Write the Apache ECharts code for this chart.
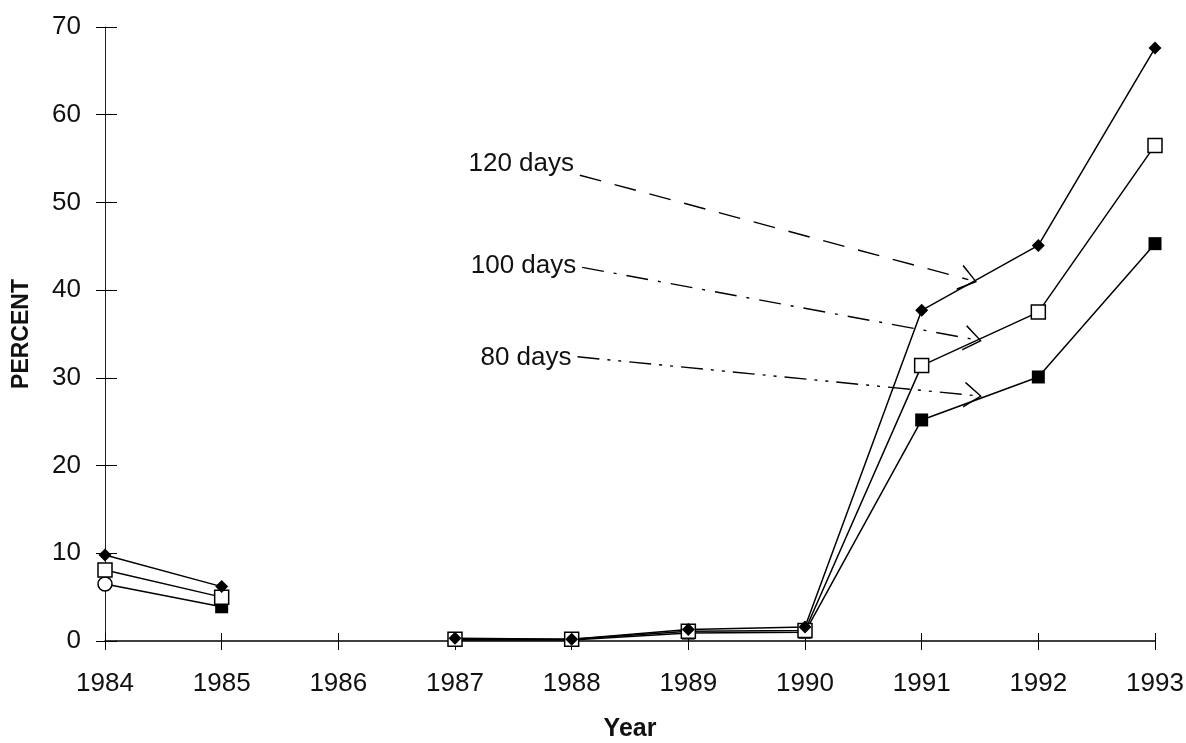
<!DOCTYPE html>
<html>
<head>
<meta charset="utf-8">
<script src="https://cdn.jsdelivr.net/npm/echarts@6/dist/echarts.min.js"></script>
<style>
  html, body { margin: 0; padding: 0; background: #fff; }
  #main { width: 1186px; height: 743px; }
</style>
</head>
<body>
<div id="main"></div>
<script>
var years = [1984, 1985, 1986, 1987, 1988, 1989, 1990, 1991, 1992, 1993];
// null = no observation that year
var days120 = [9.8, 6.2, null, 0.3, 0.2, 1.3, 1.6, 37.7, 45.1, 67.6];
var days100 = [8.1, 5.0, null, 0.2, 0.2, 1.1, 1.2, 31.4, 37.5, 56.5];
var days80 = [6.5, 3.9, null, 0.1, 0.1, 0.9, 1.0, 25.2, 30.1, 45.3];
var yTicks = [0, 10, 20, 30, 40, 50, 60, 70];

// annotation pointers, in data units: [label, start, end]
var notes = [
  ['120 days', [1988.07, 53.1], [1991.40, 41.2]],
  ['100 days', [1988.09, 42.6], [1991.44, 34.4]],
  ['80 days', [1988.05, 32.4], [1991.44, 28.0]]
];
var noteDash = [[22, 14], [22, 10, 3, 10], [22, 8, 3, 8, 3, 8]];
var noteShift = [[0, -10], [0, 0], [0, 2]];

var font = 'Liberation Sans';
var textStyle = { color: '#111', fontSize: 26, fontFamily: font };
var vArrow = 'path://M0,20 L10,0 L20,20 L18.8,20.6 L10,2.6 L1.2,20.6 Z';

function toPairs(vals) {
  return years.map(function (y, i) {
    return [y, vals[i] == null ? '-' : vals[i]];
  });
}

function pointer(i) {
  var n = notes[i];
  return {
    silent: true,
    symbol: ['none', vArrow],
    symbolSize: [26, 18],
    lineStyle: { color: '#000', width: 1.4, type: noteDash[i] },
    label: {
      show: true,
      position: 'start',
      distance: 6,
      offset: noteShift[i],
      formatter: n[0],
      color: '#111',
      fontSize: 26,
      fontFamily: font
    },
    data: [[{ coord: n[1] }, { coord: n[2] }]]
  };
}

var lineStyle = { color: '#000', width: 1.5 };

var first80 = toPairs(days80);
first80[0] = {
  value: first80[0],
  symbol: 'circle',
  symbolSize: 14,
  itemStyle: { color: '#fff', borderColor: '#000', borderWidth: 1.5 }
};

var option = {
  animation: false,
  backgroundColor: '#fff',
  grid: { left: 105, right: 31, top: 27, bottom: 102, outerBoundsMode: 'none', containLabel: false },
  xAxis: [{
    type: 'value',
    min: 1984,
    max: 1993,
    interval: 1,
    name: 'Year',
    nameLocation: 'middle',
    nameGap: 76,
    nameTextStyle: { color: '#111', fontSize: 25, fontWeight: 'bold', fontFamily: font },
    splitLine: { show: false },
    axisLine: { lineStyle: { color: '#000', width: 1.5 } },
    axisTick: { length: 9, lineStyle: { color: '#000', width: 1 } },
    axisLabel: Object.assign({ margin: 30, formatter: function (v) { return String(v); } }, textStyle)
  }, {
    // inside half of the cross ticks
    type: 'value',
    min: 1984,
    max: 1993,
    interval: 1,
    position: 'top',
    offset: -614,
    splitLine: { show: false },
    axisLine: { show: false },
    axisTick: { length: 8, lineStyle: { color: '#000', width: 1 } },
    axisLabel: { show: false }
  }],
  yAxis: [{
    type: 'value',
    min: 0,
    max: 70,
    interval: 10,
    name: 'PERCENT',
    nameLocation: 'middle',
    nameGap: 72,
    nameTextStyle: { color: '#111', fontSize: 23, fontWeight: 'bold', fontFamily: font },
    splitLine: { show: false },
    axisLine: { show: true, lineStyle: { color: '#222', width: 1 } },
    axisTick: { show: true, length: 9, lineStyle: { color: '#000', width: 1 } },
    axisLabel: Object.assign({ margin: 24 }, textStyle)
  }, {
    type: 'value',
    min: 0,
    max: 70,
    interval: 10,
    position: 'right',
    offset: -1050,
    splitLine: { show: false },
    axisLine: { show: false },
    axisTick: { show: true, length: 12, lineStyle: { color: '#000', width: 1 } },
    axisLabel: { show: false }
  }],
  series: [{
    name: '80 days',
    type: 'line',
    data: first80,
    symbol: 'rect',
    symbolSize: 13,
    itemStyle: { color: '#000' },
    lineStyle: lineStyle,
    markLine: pointer(2)
  }, {
    name: '100 days',
    type: 'line',
    data: toPairs(days100),
    symbol: 'rect',
    symbolSize: 14,
    itemStyle: { color: '#fff', borderColor: '#000', borderWidth: 1.5 },
    lineStyle: lineStyle,
    markLine: pointer(1)
  }, {
    name: '120 days',
    type: 'line',
    data: toPairs(days120),
    symbol: 'diamond',
    symbolSize: 13,
    itemStyle: { color: '#000' },
    lineStyle: lineStyle,
    markLine: pointer(0)
  }]
};

var chart = echarts.init(document.getElementById('main'));
chart.setOption(option);
</script>
</body>
</html>
